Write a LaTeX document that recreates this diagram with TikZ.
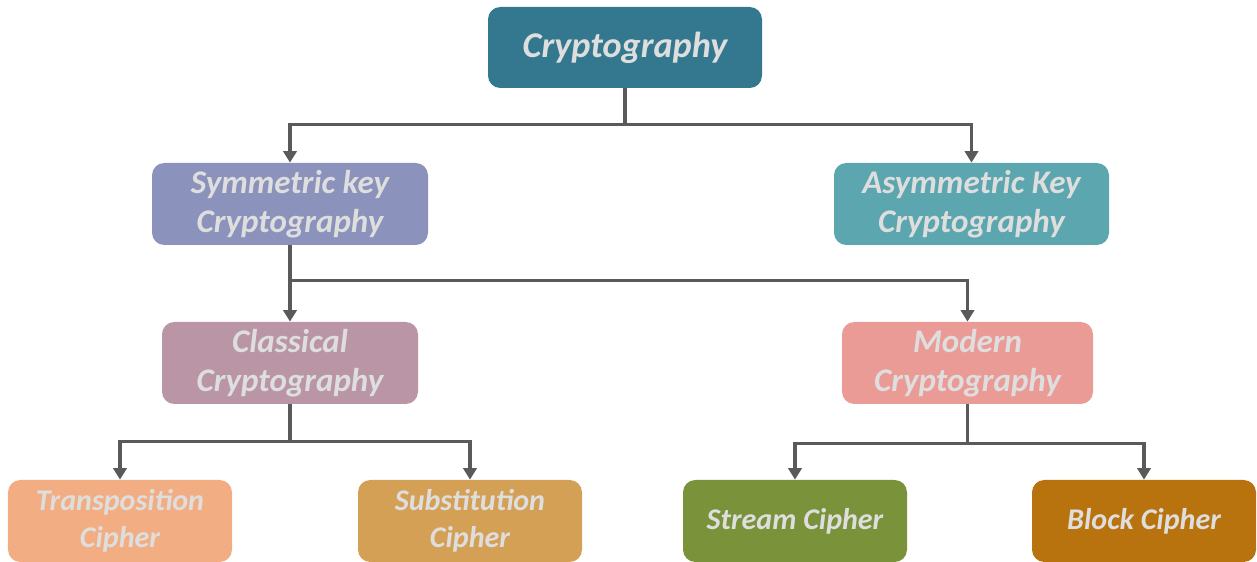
\documentclass[tikz,border=0pt]{standalone}
\usepackage{fontspec}
\setmainfont{Carlito}
\usepackage{tikz}
\usetikzlibrary{arrows.meta,calc,positioning}
\definecolor{linegray}{RGB}{90,90,90}
\definecolor{txtgray}{RGB}{222,222,222}
\tikzset{
  box/.style={rounded corners=7pt,inner sep=0pt,align=center,text=txtgray,
    font=\bfseries\itshape\fontsize{18.8}{22.5}\selectfont,minimum height=1.64cm},
  leaf/.style={box,minimum width=4.48cm,font=\bfseries\itshape\fontsize{17.1}{21}\selectfont},
  conn/.style={draw=linegray,line width=2.1pt,-{Triangle[width=7.5pt,length=6.5pt]}}
}

\begin{document}
\begin{tikzpicture}
\useasboundingbox (0,0) rectangle (25.14,-11.24);
% top level
\node[box,fill={rgb,255:red,52;green,120;blue,143},minimum width=5.48cm,minimum height=1.62cm,
  font=\bfseries\itshape\fontsize{20.6}{24}\selectfont] (crypto) at (12.5,-0.95) {Cryptography};
\node[box,fill={rgb,255:red,139;green,146;blue,187},minimum width=5.52cm] (sym) at (5.8,-4.08) {Symmetric key\\Cryptography};
\node[box,fill={rgb,255:red,92;green,166;blue,176},minimum width=5.5cm] (asym) at (19.43,-4.08) {Asymmetric Key\\Cryptography};
% second level
\node[box,fill={rgb,255:red,185;green,149;blue,165},minimum width=5.12cm] (classic) at (5.8,-7.26) {Classical\\Cryptography};
\node[box,fill={rgb,255:red,235;green,155;blue,150},minimum width=5.02cm] (modern) at (19.35,-7.26) {Modern\\Cryptography};
% ciphers
\node[leaf,fill={rgb,255:red,242;green,174;blue,130}] (trans) at (2.4,-10.42) {Transposition\\Cipher};
\node[leaf,fill={rgb,255:red,212;green,160;blue,85}] (subst) at (9.4,-10.42) {Substitution\\Cipher};
\node[leaf,fill={rgb,255:red,122;green,146;blue,58}] (stream) at (15.9,-10.42) {Stream Cipher};
\node[leaf,fill={rgb,255:red,185;green,115;blue,14}] (block) at (22.88,-10.42) {Block Cipher};
% connectors
\draw[conn] (crypto.south) -- ++(0,-0.72) -| (sym.north);
\draw[conn] (crypto.south) -- ++(0,-0.72) -| (asym.north);
\draw[conn] (sym.south) -- (classic.north);
\draw[conn] (sym.south) -- ++(0,-0.7) -| (modern.north);
\draw[conn] (classic.south) -- ++(0,-0.74) -| (trans.north);
\draw[conn] (classic.south) -- ++(0,-0.74) -| (subst.north);
\draw[conn] (modern.south) -- ++(0,-0.78) -| (stream.north);
\draw[conn] (modern.south) -- ++(0,-0.78) -| (block.north);
\end{tikzpicture}
\end{document}
